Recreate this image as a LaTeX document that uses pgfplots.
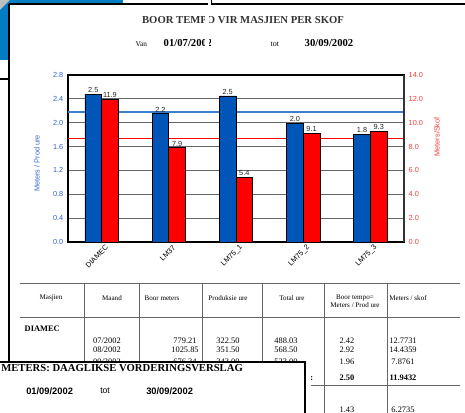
\documentclass[border=0pt]{standalone}
\usepackage{fontspec}
\setmainfont{Liberation Serif}
\newfontfamily\arial{Liberation Sans}
\usepackage{pgfplots}
\pgfplotsset{compat=1.18}
\usepackage{pgfplotstable}

\definecolor{barblue}{RGB}{0,85,185}
\definecolor{barred}{RGB}{255,0,0}
\definecolor{lineblue}{RGB}{60,125,205}
\definecolor{tickblue}{RGB}{50,100,210}
\definecolor{tickred}{RGB}{250,60,60}
\definecolor{topblue}{RGB}{0,125,195}

% bar heights, labels as printed on the chart
\pgfplotstableread{
x y lab
0 2.48 2.5
1 2.15 2.2
2 2.45 2.5
3 1.99 2.0
4 1.81 1.8
}\blueTbl

\pgfplotstableread{
x y lab
0 11.93 11.9
1 7.90 7.9
2 5.40 5.4
3 9.10 9.1
4 9.30 9.3
}\redTbl

\newcommand\cf{\arial\fontsize{5.5}{6.5}\selectfont}
\newcommand\tf{\fontsize{6.3}{7.5}\selectfont}
\newcommand\hf{\fontsize{5.3}{6.3}\selectfont}

\begin{document}
\begin{tikzpicture}
\useasboundingbox (0,0) rectangle (348.75pt,-309.75pt);
\fill[white] (0,0) rectangle (348.75pt,-309.75pt);

% window frame bits, title (pixel coordinates)
\begin{scope}[x=0.75pt,y=-0.75pt]
  \fill[topblue] (0,0) rectangle (123,4);
  \fill[topblue] (0,0) rectangle (8,60);
  \fill[black!25] (0,0) -- (10,0) -- (0,10) -- cycle;
  \draw[line width=1.5pt] (9,4.5) -- (208,4.5);
  \draw[line width=1.5pt] (212,4.5) -- (465,4.5);
  \draw[line width=1pt] (211.5,0) -- (211.5,5);
  \draw[line width=1.2pt] (0,79) -- (9,79);
  \node[font=\bfseries\fontsize{8}{9}\selectfont, text=black!80] at (243,20) {BOOR TEMPO VIR MASJIEN PER SKOF};
  \node[font=\fontsize{5.5}{6.5}\selectfont, anchor=west] at (131,44.5) {Van};
  \node[font=\bfseries\fontsize{8}{9}\selectfont, anchor=west] at (159,43.5) {01/07/2002};
  \node[font=\fontsize{6}{7}\selectfont, anchor=west] at (266,44.5) {tot};
  \node[font=\bfseries\fontsize{8}{9}\selectfont, anchor=west] at (300,43.5) {30/09/2002};
  \fill[white] (204.5,8) rectangle (209,52);
  \fill[white] (211,36) rectangle (250,52);
\end{scope}

\begin{axis}[
  at={(51pt,-181.5pt)}, anchor=south west,
  scale only axis, width=252pt, height=125.25pt,
  xmin=-0.5, xmax=4.5, ymin=0, ymax=2.8,
  xtick={0,1,2,3,4},
  xticklabels={DIAMEC,LM37,LM75\_1,LM75\_2,LM75\_3},
  xticklabel style={font=\cf, rotate=45, anchor=east, xshift=4pt, yshift=-5.2pt},
  ytick={0,0.4,0.8,1.2,1.6,2.0,2.4,2.8},
  yticklabel style={font=\cf, text=tickblue},
  /pgf/number format/assume math mode=true,
  /pgf/number format/fixed, /pgf/number format/fixed zerofill, /pgf/number format/precision=1,
  tick style={draw=none},
  ymajorgrids, grid style={black!60, line width=0.6pt},
  axis line style={black, line width=0.8pt},
  ylabel={Meters / Prod ure},
  ylabel style={font=\cf, text=tickblue, at={(axis description cs:-0.092,0.47)}, anchor=center},
  clip=false,
]
  % average lines (red one scaled to left axis: 8.7/5)
  \addplot[lineblue, line width=0.9pt] coordinates {(-0.5,2.18) (4.5,2.18)};
  \addplot[barred, line width=0.9pt] coordinates {(-0.5,1.74) (4.5,1.74)};
  \addplot[ybar, bar width=12.5pt, bar shift=-6.25pt, fill=barblue, draw=black, line width=0.5pt,
    nodes near coords, point meta=explicit symbolic,
    nodes near coords style={font=\cf, text=black!85, inner sep=1pt, xshift=-6.25pt}]
    table[x=x, y=y, meta=lab] {\blueTbl};
\end{axis}

\begin{axis}[
  at={(51pt,-181.5pt)}, anchor=south west,
  scale only axis, width=252pt, height=125.25pt,
  xmin=-0.5, xmax=4.5, ymin=0, ymax=14,
  hide x axis, axis y line*=right,
  ytick={0,2,4,6,8,10,12,14},
  yticklabel style={font=\cf, text=tickred},
  /pgf/number format/assume math mode=true,
  /pgf/number format/fixed, /pgf/number format/fixed zerofill, /pgf/number format/precision=1,
  tick style={draw=none},
  axis line style={black!80, line width=0.8pt},
  ylabel={Meters/Skof},
  ylabel style={font=\cf, text=tickred, at={(axis description cs:1.098,0.63)}, anchor=center},
  clip=false,
]
  \addplot[ybar, bar width=12.5pt, bar shift=6.25pt, fill=barred, draw=black, line width=0.5pt,
    nodes near coords, point meta=explicit symbolic,
    nodes near coords style={font=\cf, text=black!85, inner sep=1pt, xshift=6.25pt}]
    table[x=x, y=y, meta=lab] {\redTbl};
\end{axis}

% report table underneath, and the window in front of it
\begin{scope}[x=0.75pt,y=-0.75pt, font=\tf]
  \draw[black!60, line width=0.6pt] (20,283) -- (460,283);
  \draw[black!60, line width=0.6pt] (20,317) -- (460,317);
  \draw[black!60, line width=0.6pt] (310,385) -- (460,385);
  \foreach \cx in {84,139,202,262,324,387}
    \draw[black!60, line width=0.6pt] (\cx,283) -- (\cx,413);
  \node[font=\hf] at (51,298) {Masjien};
  \node[font=\hf] at (112,298) {Maand};
  \node[font=\hf] at (162,298) {Boor meters};
  \node[font=\hf] at (228,298) {Produksie ure};
  \node[font=\hf] at (292,298) {Total ure};
  \node[font=\hf, align=center, inner sep=0pt] at (355,301.5) {Boor tempo=\\Meters / Prod ure};
  \node[font=\hf] at (408,298) {Meters / skof};
  \node[font=\bfseries\tf, anchor=west] at (20,329) {DIAMEC};
  \node at (107,340.5) {07/2002};
  \node at (185,340.5) {779.21};
  \node at (228,340.5) {322.50};
  \node at (286,340.5) {488.03};
  \node at (347,340.5) {2.42};
  \node at (403,340.5) {12.7731};
  \node at (107,350) {08/2002};
  \node at (185,350) {1025.85};
  \node at (228,350) {351.50};
  \node at (286,350) {568.50};
  \node at (347,350) {2.92};
  \node at (403,350) {14.4359};
  \node at (107,362) {09/2002};
  \node at (185,362) {676.34};
  \node at (228,362) {343.00};
  \node at (286,362) {523.00};
  \node at (347,362) {1.96};
  \node at (403,362) {7.8761};
  \node[font=\bfseries\tf, anchor=east, inner sep=0pt] at (313.5,378) {Total ure:};
  \node[font=\bfseries\tf] at (347,378) {2.50};
  \node[font=\bfseries\tf] at (403,378) {11.9432};
  \node at (347,410) {1.43};
  \node at (403,410) {6.2735};
  % front window
  \fill[white] (0,362) rectangle (310.5,415);
  \draw[line width=1.5pt] (-2,362) -- (305,362) -- (305,415);
  \node[font=\bfseries\fontsize{8}{9}\selectfont, anchor=west, inner sep=0pt] at (1,368) {METERS: DAAGLIKSE VORDERINGSVERSLAG};
  \node[font=\arial\bfseries\fontsize{7}{8}\selectfont, anchor=west, inner sep=0pt] at (26,391) {01/09/2002};
  \node[font=\arial\fontsize{6.5}{7.5}\selectfont, anchor=west, inner sep=0pt] at (100,391) {tot};
  \node[font=\arial\bfseries\fontsize{7}{8}\selectfont, anchor=west, inner sep=0pt] at (146,391) {30/09/2002};
  % outer window edge on the left
  \draw[line width=1.5pt] (9,4.5) -- (9,362);
\end{scope}
\end{tikzpicture}
\end{document}
